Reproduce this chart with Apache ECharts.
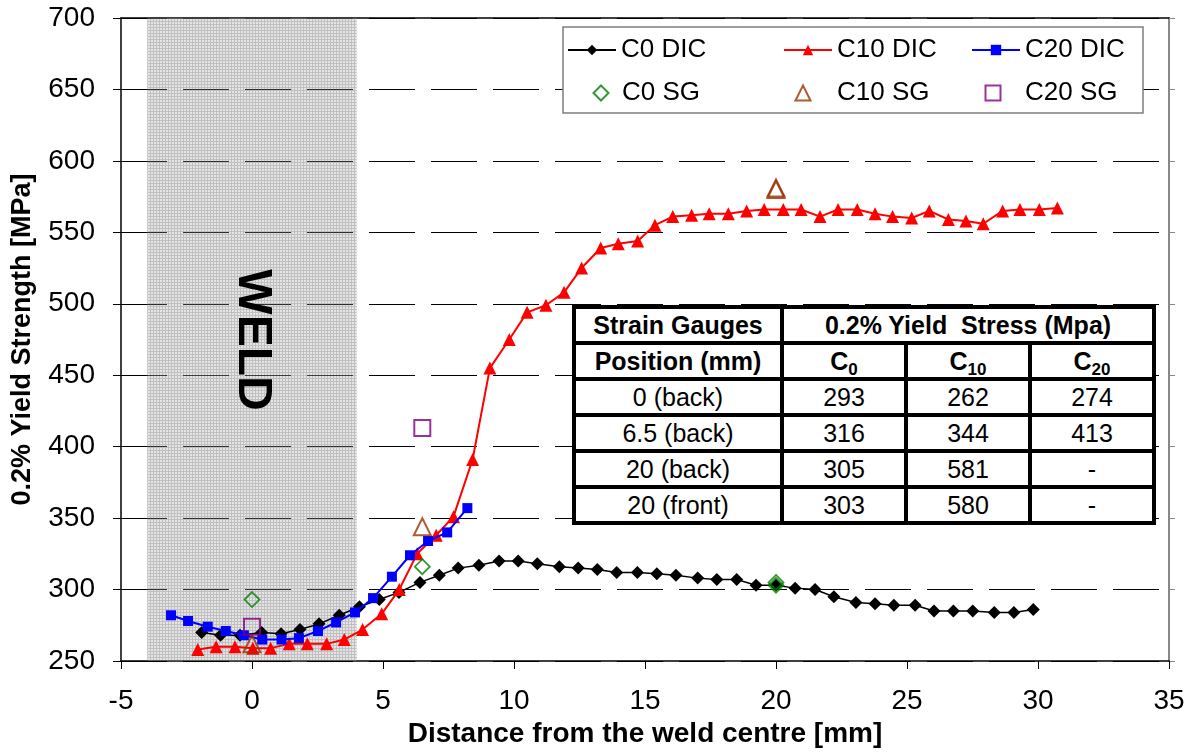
<!DOCTYPE html>
<html>
<head>
<meta charset="utf-8">
<script src="https://cdn.jsdelivr.net/npm/echarts@6/dist/echarts.min.js"></script>
<style>
  html, body { margin: 0; padding: 0; background: #fff; }
  #wrap { position: relative; width: 1190px; height: 753px; }
  #chart { position: absolute; left: 0; top: 0; width: 1190px; height: 753px; }
  #sgTable {
    position: absolute; left: 572px; top: 305px;
    border-collapse: collapse; background: #fff;
    font-family: "Liberation Sans", Arial, sans-serif; font-size: 25px; color: #000;
  }
  #sgTable td { border: 4px solid #000; text-align: center; padding: 0; height: 32px; line-height: 28px; }
  #sgTable td.c0 { width: 204px; }
  #sgTable td.cn { width: 120px; }
  #sgTable tr.hd td { font-weight: bold; }
  #sgTable sub { font-size: 17px; vertical-align: -5px; line-height: 0; }
</style>
</head>
<body>
<div id="wrap">
  <div id="chart"></div>
  <table id="sgTable"></table>
</div>
<script>
// ---------------- DATA ----------------
const xTickMin = -5, xTickMax = 35, xTickStep = 5;
const yTickMin = 250, yTickMax = 700, yTickStep = 50;
const weldRange = [-4, 4];

const c0DicX = [-1.92,-1.2,-0.46,0.37,1.11,1.83,2.56,3.33,4.1,4.86,5.61,6.41,7.15,7.87,8.66,9.43,10.16,10.89,11.73,12.45,13.18,13.92,14.71,15.45,16.18,17.01,17.74,18.5,19.24,20.0,20.73,21.49,22.21,23.05,23.78,24.5,25.31,26.03,26.77,27.51,28.33,29.08,29.82];
const c0DicY = [270,268,268,270,269,272,276,282,288,293,298,305,310,315,317,320,320,318,316,315,314,312,312,311,310,308,307,307,303,303,301,300,295,291,290,289,289,285,285,285,284,284,286];

const c10DicX = [-2.07,-1.37,-0.65,0.03,0.71,1.42,2.11,2.85,3.52,4.22,4.95,5.62,6.3,7.03,7.69,8.42,9.08,9.82,10.5,11.22,11.91,12.58,13.31,13.98,14.72,15.38,16.06,16.78,17.45,18.18,18.88,19.55,20.28,20.96,21.68,22.37,23.1,23.78,24.45,25.18,25.85,26.58,27.25,27.91,28.65,29.31,30.05,30.74];
const c10DicY = [258,260,260,259,259,262,262,262,265,272,283,300,325,338,351,391,455,475,494,499,508,525,539,542,544,555,561,562,563,563,565,566,566,566,561,566,566,563,561,560,565,559,558,556,565,566,566,567];

const c20DicX = [-3.09,-2.44,-1.69,-1.0,-0.31,0.39,1.13,1.79,2.52,3.21,3.93,4.62,5.34,6.03,6.72,7.45,8.22];
const c20DicY = [282,278,274,271,268,265,265,266,271,277,284,294,309,324,334,340,357];

// Strain gauge table (also plotted as the SG markers)
const sgLabels = ['0 (back)', '6.5 (back)', '20 (back)', '20 (front)'];
const sgX = [0, 6.5, 20, 20];
const sgC0 = [293, 316, 305, 303];
const sgC10 = [262, 344, 581, 580];
const sgC20 = [274, 413, '-', '-'];

// ---------------- TABLE ----------------
(function buildTable() {
  const t = document.getElementById('sgTable');
  let html = '<tr class="hd"><td class="c0">Strain Gauges</td><td colspan="3">0.2% Yield&nbsp; Stress (Mpa)</td></tr>';
  html += '<tr class="hd"><td class="c0">Position (mm)</td><td class="cn">C<sub>0</sub></td><td class="cn">C<sub>10</sub></td><td class="cn">C<sub>20</sub></td></tr>';
  for (let i = 0; i < sgLabels.length; i++) {
    html += '<tr><td class="c0">' + sgLabels[i] + '</td><td class="cn">' + sgC0[i] + '</td><td class="cn">' + sgC10[i] + '</td><td class="cn">' + sgC20[i] + '</td></tr>';
  }
  t.innerHTML = html;
})();

// ---------------- CHART ----------------
const zip = (xs, ys) => xs.map((x, i) => [x, ys[i]]);
const numericPairs = (xs, ys) => xs.map((x, i) => [x, ys[i]]).filter(p => typeof p[1] === 'number');

const FONT = '"Liberation Sans", Arial, sans-serif';

// weld hatch pattern
const pat = document.createElement('canvas');
pat.width = 3; pat.height = 3;
(function () {
  const g = pat.getContext('2d');
  g.fillStyle = 'rgba(150,150,150,0.26)';
  g.fillRect(0, 0, 3, 3);
  g.fillStyle = 'rgba(110,110,110,0.30)';
  g.fillRect(0, 0, 3, 1);
  g.fillRect(0, 1, 1, 2);
})();

const chart = echarts.init(document.getElementById('chart'), null, { renderer: 'canvas' });

const legendText = { fontSize: 26, fontFamily: FONT, color: '#000' };
const dicLegend = (left, name) => ({
  orient: 'horizontal', itemWidth: 48, itemHeight: 13, itemGap: 0, padding: 0,
  left: left, top: 37, textStyle: legendText, selectedMode: false, data: [name]
});
const sgLegend = (left, pad, name) => ({
  orient: 'horizontal', itemWidth: 15, itemHeight: 15, itemGap: 0, padding: 0,
  left: left, top: 80,
  textStyle: Object.assign({}, legendText, { padding: [0, 0, 0, pad] }),
  selectedMode: false, data: [name]
});

const option = {
  backgroundColor: '#fff',
  animation: false,
  textStyle: { fontFamily: FONT },
  grid: { left: 121, right: 21, top: 18, bottom: 91, containLabel: false },
  xAxis: [{
    type: 'value', min: xTickMin, max: xTickMax, interval: xTickStep,
    name: 'Distance from the weld centre [mm]', nameLocation: 'middle', nameGap: 59,
    nameTextStyle: { fontSize: 28, fontWeight: 'bold', color: '#000', fontFamily: FONT },
    axisLine: { show: true, onZero: false, lineStyle: { color: '#000', width: 1.5 } },
    axisTick: { show: true, inside: false, length: 8, lineStyle: { color: '#000' } },
    axisLabel: { fontSize: 28, color: '#000', margin: 26, fontFamily: FONT },
    splitLine: { show: false }
  }, {
    type: 'value', position: 'top', min: xTickMin, max: xTickMax, interval: xTickStep,
    axisLine: { show: true, onZero: false, lineStyle: { color: '#000', width: 1.5 } },
    axisTick: { show: false }, axisLabel: { show: false }, splitLine: { show: false }
  }],
  yAxis: [{
    type: 'value', min: yTickMin, max: yTickMax, interval: yTickStep,
    name: '0.2% Yield Strength [MPa]', nameLocation: 'middle', nameGap: 85, nameRotate: 90,
    nameTextStyle: { fontSize: 27, fontWeight: 'bold', color: '#000', fontFamily: FONT },
    axisLine: { show: true, onZero: false, lineStyle: { color: '#000', width: 1.5 } },
    axisTick: { show: true, inside: false, length: 8, lineStyle: { color: '#000' } },
    axisLabel: { fontSize: 28, color: '#000', margin: 26, fontFamily: FONT },
    splitLine: { show: true, lineStyle: { color: '#000', width: 1, type: [46, 16] } }
  }, {
    type: 'value', position: 'right', min: yTickMin, max: yTickMax, interval: yTickStep,
    axisLine: { show: true, onZero: false, lineStyle: { color: '#888', width: 2 } },
    axisTick: { show: true, inside: false, length: 6, lineStyle: { color: '#888' } },
    axisLabel: { show: false }, splitLine: { show: false }
  }],
  legend: [
    dicLegend(567, 'C0 DIC'),
    dicLegend(783, 'C10 DIC'),
    dicLegend(971, 'C20 DIC'),
    sgLegend(592.5, 8.5, 'C0 SG'),
    sgLegend(794.5, 21.5, 'C10 SG'),
    sgLegend(984.5, 19.5, 'C20 SG')
  ],
  graphic: [
    { type: 'rect', z: 3, shape: { x: 563, y: 27, width: 580, height: 86 },
      style: { fill: '#fff', stroke: '#7f7f7f', lineWidth: 1.5 } },
    { type: 'text', z: 5, x: 252, y: 340, rotation: -Math.PI / 2,
      style: { text: 'WELD', font: 'bold 48px "Liberation Sans", Arial, sans-serif',
               fill: '#000', textAlign: 'center', textVerticalAlign: 'middle' } }
  ],
  series: [
    {
      name: 'C0 DIC', type: 'line', data: zip(c0DicX, c0DicY),
      symbol: 'diamond', symbolSize: 13, showAllSymbol: true,
      lineStyle: { color: '#000', width: 1.5 }, itemStyle: { color: '#000' },
      z: 3,
      markArea: {
        silent: true,
        itemStyle: { color: { image: pat, repeat: 'repeat' } },
        data: [[{ xAxis: weldRange[0], yAxis: yTickMin }, { xAxis: weldRange[1], yAxis: yTickMax }]]
      }
    },
    {
      name: 'C10 DIC', type: 'line', data: zip(c10DicX, c10DicY),
      symbol: 'triangle', symbolSize: 13, showAllSymbol: true,
      lineStyle: { color: '#ff0000', width: 2 }, itemStyle: { color: '#ff0000' }, z: 4
    },
    {
      name: 'C20 DIC', type: 'line', data: zip(c20DicX, c20DicY),
      symbol: 'rect', symbolSize: 10, showAllSymbol: true,
      lineStyle: { color: '#0000ff', width: 2 }, itemStyle: { color: '#0000ff' }, z: 5
    },
    {
      name: 'C0 SG', type: 'scatter', data: numericPairs(sgX, sgC0),
      symbol: 'diamond', symbolSize: 15,
      itemStyle: { color: 'rgba(0,0,0,0)', borderColor: '#008000', borderWidth: 1.8 }, z: 6
    },
    {
      name: 'C10 SG', type: 'scatter', data: numericPairs(sgX, sgC10),
      symbol: 'triangle', symbolSize: 17,
      itemStyle: { color: 'rgba(0,0,0,0)', borderColor: '#993300', borderWidth: 2 }, z: 6
    },
    {
      name: 'C20 SG', type: 'scatter', data: numericPairs(sgX, sgC20),
      symbol: 'rect', symbolSize: 16,
      itemStyle: { color: 'rgba(0,0,0,0)', borderColor: '#800080', borderWidth: 2 }, z: 6
    }
  ]
};
chart.setOption(option);
</script>
</body>
</html>
